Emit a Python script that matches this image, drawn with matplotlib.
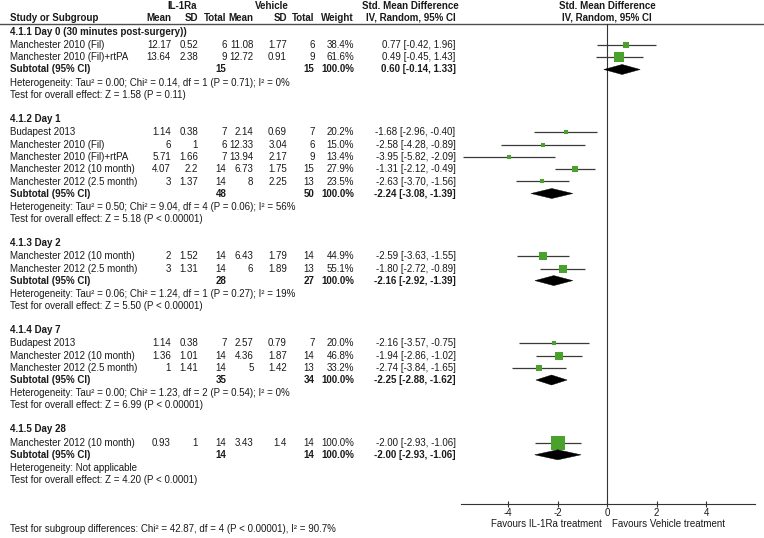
import matplotlib
matplotlib.use("Agg")
import matplotlib.pyplot as plt
from matplotlib.patches import Polygon

plt.rcParams['font.family'] = ['Liberation Sans', 'DejaVu Sans']

# ---------------- data ----------------
group_titles = ["4.1.1 Day 0 (30 minutes post-surgery))", "4.1.2 Day 1", "4.1.3 Day 2",
                "4.1.4 Day 7", "4.1.5 Day 28"]

studies = [
    ["Manchester 2010 (Fil)", "Manchester 2010 (Fil)+rtPA"],
    ["Budapest 2013", "Manchester 2010 (Fil)", "Manchester 2010 (Fil)+rtPA",
     "Manchester 2012 (10 month)", "Manchester 2012 (2.5 month)"],
    ["Manchester 2012 (10 month)", "Manchester 2012 (2.5 month)"],
    ["Budapest 2013", "Manchester 2012 (10 month)", "Manchester 2012 (2.5 month)"],
    ["Manchester 2012 (10 month)"],
]
il_mean = [[12.17, 13.64], [1.14, 6, 5.71, 4.07, 3], [2, 3], [1.14, 1.36, 1], [0.93]]
il_sd = [[0.52, 2.38], [0.38, 1, 1.66, 2.2, 1.37], [1.52, 1.31], [0.38, 1.01, 1.41], [1]]
il_n = [[6, 9], [7, 6, 7, 14, 14], [14, 14], [7, 14, 14], [14]]
veh_mean = [[11.08, 12.72], [2.14, 12.33, 13.94, 6.73, 8], [6.43, 6], [2.57, 4.36, 5], [3.43]]
veh_sd = [[1.77, 0.91], [0.69, 3.04, 2.17, 1.75, 2.25], [1.79, 1.89], [0.79, 1.87, 1.42], [1.4]]
veh_n = [[6, 9], [7, 6, 9, 15, 13], [14, 13], [7, 14, 13], [14]]
weights = [[38.4, 61.6], [20.2, 15.0, 13.4, 27.9, 23.5], [44.9, 55.1], [20.0, 46.8, 33.2], [100.0]]
smd = [[0.77, 0.49], [-1.68, -2.58, -3.95, -1.31, -2.63], [-2.59, -1.80], [-2.16, -1.94, -2.74], [-2.00]]
smd_lo = [[-0.42, -0.45], [-2.96, -4.28, -5.82, -2.12, -3.70], [-3.63, -2.72], [-3.57, -2.86, -3.84], [-2.93]]
smd_hi = [[1.96, 1.43], [-0.40, -0.89, -2.09, -0.49, -1.56], [-1.55, -0.89], [-0.75, -1.02, -1.65], [-1.06]]

sub_n_il = [15, 48, 28, 35, 14]
sub_n_veh = [15, 50, 27, 34, 14]
sub_smd = [0.60, -2.24, -2.16, -2.25, -2.00]
sub_lo = [-0.14, -3.08, -2.92, -2.88, -2.93]
sub_hi = [1.33, -1.39, -1.39, -1.62, -1.06]

heterogeneity = [
    "Heterogeneity: Tau² = 0.00; Chi² = 0.14, df = 1 (P = 0.71); I² = 0%",
    "Heterogeneity: Tau² = 0.50; Chi² = 9.04, df = 4 (P = 0.06); I² = 56%",
    "Heterogeneity: Tau² = 0.06; Chi² = 1.24, df = 1 (P = 0.27); I² = 19%",
    "Heterogeneity: Tau² = 0.00; Chi² = 1.23, df = 2 (P = 0.54); I² = 0%",
    "Heterogeneity: Not applicable",
]
overall = [
    "Test for overall effect: Z = 1.58 (P = 0.11)",
    "Test for overall effect: Z = 5.18 (P < 0.00001)",
    "Test for overall effect: Z = 5.50 (P < 0.00001)",
    "Test for overall effect: Z = 6.99 (P < 0.00001)",
    "Test for overall effect: Z = 4.20 (P < 0.0001)",
]
subgroup_test = "Test for subgroup differences: Chi² = 42.87, df = 4 (P < 0.00001), I² = 90.7%"
x_ticks = [-4, -2, 0, 2, 4]
favours_left = "Favours IL-1Ra treatment"
favours_right = "Favours Vehicle treatment"

# ---------------- layout ----------------
W, H = 764, 538
FS = 7.0
TXT = '#1a1a1a'
fig = plt.figure(figsize=(W / 100, H / 100), dpi=100)
fig.patch.set_facecolor('white')

ax_t = fig.add_axes([0, 0, 1, 1])
ax_t.set_xlim(0, W)
ax_t.set_ylim(H, 0)
ax_t.axis('off')

AX_L, AX_R, AX_TOP, AX_BOT = 460.7, 755.0, 23.8, 504.0
ax_f = fig.add_axes([AX_L / W, (H - AX_BOT) / H, (AX_R - AX_L) / W, (AX_BOT - AX_TOP) / H])
ax_f.set_xlim(-5.92, 5.97)
ax_f.set_ylim(AX_BOT, AX_TOP)
ax_f.patch.set_alpha(0)
for s in ['left', 'right', 'top']:
    ax_f.spines[s].set_visible(False)
ax_f.spines['bottom'].set_color('#333333')
ax_f.spines['bottom'].set_linewidth(0.8)
ax_f.set_yticks([])
ax_f.set_xticks(x_ticks)
ax_f.set_xticklabels([f"{t:g}" for t in x_ticks])
ax_f.tick_params(axis='x', direction='inout', length=4, width=0.8, colors='#333333',
                 labelsize=FS, pad=1, labelcolor=TXT)
ax_f.axvline(0, color='#333333', lw=0.8, zorder=1)

X_LEFT = 10
col_right = {'m1': 171, 's1': 198, 'n1': 226.5, 'm2': 253.5, 's2': 287, 'n2': 314.5,
             'w': 354, 'ci': 455.5}


def txt(x, y, s, ha='left', bold=False):
    ax_t.text(x, y, s, ha=ha, va='center', fontsize=FS, color=TXT,
              fontweight='bold' if bold else 'normal')


# headers
txt(182, 5.7, "IL-1Ra", ha='center', bold=True)
txt(272, 5.7, "Vehicle", ha='center', bold=True)
txt(410, 5.7, "Std. Mean Difference", ha='center', bold=True)
txt(607.3, 5.7, "Std. Mean Difference", ha='center', bold=True)
y2 = 17.8
txt(X_LEFT, y2, "Study or Subgroup", bold=True)
for key, lab in [('m1', 'Mean'), ('s1', 'SD'), ('n1', 'Total'), ('m2', 'Mean'), ('s2', 'SD'),
                 ('n2', 'Total'), ('w', 'Weight'), ('ci', 'IV, Random, 95% CI')]:
    txt(col_right[key], y2, lab, ha='right', bold=True)
txt(607.3, y2, "IV, Random, 95% CI", ha='center', bold=True)
ax_t.plot([0, W], [AX_TOP, AX_TOP], color='#4d4d4d', lw=1.0)

SQ_COLOR = '#4aa22c'
y = 31.7
for g in range(len(group_titles)):
    txt(X_LEFT, y, group_titles[g], bold=True)
    y += 13.5
    for i in range(len(studies[g])):
        txt(X_LEFT, y, studies[g][i])
        txt(col_right['m1'], y, f"{il_mean[g][i]:g}", ha='right')
        txt(col_right['s1'], y, f"{il_sd[g][i]:g}", ha='right')
        txt(col_right['n1'], y, f"{il_n[g][i]}", ha='right')
        txt(col_right['m2'], y, f"{veh_mean[g][i]:g}", ha='right')
        txt(col_right['s2'], y, f"{veh_sd[g][i]:g}", ha='right')
        txt(col_right['n2'], y, f"{veh_n[g][i]}", ha='right')
        txt(col_right['w'], y, f"{weights[g][i]:.1f}%", ha='right')
        txt(col_right['ci'], y, f"{smd[g][i]:.2f} [{smd_lo[g][i]:.2f}, {smd_hi[g][i]:.2f}]", ha='right')
        ax_f.hlines(y, smd_lo[g][i], smd_hi[g][i], color='#3a3a3a', lw=0.9, zorder=2)
        side_px = 1.3 + 0.135 * weights[g][i]
        ax_f.scatter([smd[g][i]], [y], marker='s', s=(side_px * 0.72) ** 2,
                     color=SQ_COLOR, linewidths=0, zorder=3)
        y += 12.3
    y -= 0.3
    txt(X_LEFT, y, "Subtotal (95% CI)", bold=True)
    txt(col_right['n1'], y, f"{sub_n_il[g]}", ha='right', bold=True)
    txt(col_right['n2'], y, f"{sub_n_veh[g]}", ha='right', bold=True)
    txt(col_right['w'], y, "100.0%", ha='right', bold=True)
    txt(col_right['ci'], y, f"{sub_smd[g]:.2f} [{sub_lo[g]:.2f}, {sub_hi[g]:.2f}]", ha='right', bold=True)
    ax_f.add_patch(Polygon([(sub_lo[g], y), (sub_smd[g], y - 5.0), (sub_hi[g], y),
                            (sub_smd[g], y + 5.0)], closed=True, facecolor='black',
                           edgecolor='black', lw=0.3, zorder=4))
    y += 13.0
    txt(X_LEFT, y, heterogeneity[g])
    y += 12.3
    txt(X_LEFT, y, overall[g])
    y += 24.0

txt(X_LEFT, 529.5, subgroup_test)
txt(601.7, 524.3, favours_left, ha='right')
txt(612.3, 524.3, favours_right, ha='left')

fig.savefig("out.png", dpi=100, facecolor='white')
